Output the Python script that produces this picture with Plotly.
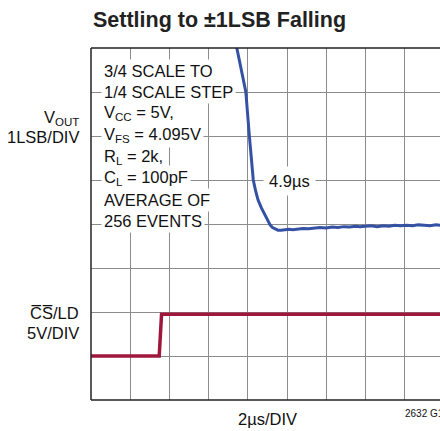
import plotly.graph_objects as go

# VOUT trace (x in divisions of 2us, y in divisions of 1LSB)
vout_x = [3.50, 3.62, 3.72, 3.84, 3.95, 4.04, 4.14, 4.20, 4.26, 4.35, 4.44, 4.51, 4.57, 4.63, 4.70, 4.77,
          4.85, 4.95, 5.05, 5.15, 5.28, 5.40, 5.55, 5.70, 5.84, 6.00, 6.15, 6.30, 6.45, 6.60, 6.75, 6.86,
          7.00, 7.15, 7.30, 7.45, 7.60, 7.75, 7.90, 8.05, 8.20, 8.35, 8.50, 8.65, 8.80, 8.92]
vout_y = [8.90, 8.45, 8.00, 7.50, 7.00, 6.00, 5.00, 4.75, 4.55, 4.36, 4.20, 4.07, 3.98, 3.92, 3.88, 3.86,
          3.86, 3.87, 3.88, 3.87, 3.89, 3.90, 3.89, 3.91, 3.92, 3.91, 3.93, 3.92, 3.94, 3.93, 3.95, 3.94,
          3.95, 3.96, 3.94, 3.96, 3.95, 3.97, 3.96, 3.97, 3.96, 3.98, 3.97, 3.96, 3.98, 3.97]

# CS/LD trace (y in divisions of 5V)
cs_x = [0.0, 1.74, 1.80, 8.92]
cs_y = [1.00, 1.00, 1.95, 1.95]

notes = ["3/4 SCALE TO", "1/4 SCALE STEP", "V<sub>CC</sub> = 5V,", "V<sub>FS</sub> = 4.095V",
         "R<sub>L</sub> = 2k,", "C<sub>L</sub> = 100pF", "AVERAGE OF", "256 EVENTS"]

FONT = "Liberation Sans, Arial, Helvetica, sans-serif"
BLUE = "#3551a4"
RED = "#a0173c"
FS = 16.5

fig = go.Figure()
fig.add_trace(go.Scatter(x=vout_x, y=vout_y, mode="lines", line=dict(color=BLUE, width=3), showlegend=False))
fig.add_trace(go.Scatter(x=cs_x, y=cs_y, mode="lines", line=dict(color=RED, width=3.5), showlegend=False))

W, H = 440, 431
L, T, B = 91, 48, 31
pw = W - L
ph = H - T - B
xmax = pw / 39.2

def px(xp):
    return (xp - L) / pw

def py(yp):
    return (H - B - yp) / ph

ann = []
ys = [70.5, 92, 113.5, 135, 156.5, 178, 199.5, 221]
for t, yy in zip(notes, ys):
    ann.append(dict(text=t, xref="paper", yref="paper", x=px(101), y=py(yy), xanchor="left", yanchor="middle",
                    showarrow=False, bgcolor="white", borderpad=2, font=dict(family=FONT, size=FS, color="#111")))
ann.append(dict(text="4.9µs", xref="paper", yref="paper", x=px(289), y=py(180.5), xanchor="center", yanchor="middle",
                showarrow=False, bgcolor="white", borderpad=5, font=dict(family=FONT, size=FS, color="#111")))
lab = [("V<sub>OUT</sub>", 118), ("1LSB/DIV", 137), ("C\u0305S\u0305/LD", 313), ("5V/DIV", 333)]
for t, yy in lab:
    ann.append(dict(text=t, xref="paper", yref="paper", x=px(81), y=py(yy), xanchor="right", yanchor="middle",
                    showarrow=False, font=dict(family=FONT, size=FS, color="#111")))
ann.append(dict(text="2µs/DIV", xref="paper", yref="paper", x=px(267), y=py(419), xanchor="center", yanchor="middle",
                showarrow=False, font=dict(family=FONT, size=FS, color="#111")))
ann.append(dict(text="2632 G14", xref="paper", yref="paper", x=px(403), y=py(413), xanchor="left", yanchor="middle",
                showarrow=False, font=dict(family=FONT, size=10, color="#111")))
ann.append(dict(text="<b>Settling to ±1LSB Falling</b>", xref="paper", yref="paper", x=px(91), y=py(20),
                xanchor="left", yanchor="middle", showarrow=False, font=dict(family=FONT, size=21.5, color="#222")))

shapes = [
    dict(type="line", xref="paper", yref="paper", x0=0, x1=0, y0=0, y1=1, line=dict(color="#222", width=1.5)),
    dict(type="line", xref="paper", yref="paper", x0=0, x1=1, y0=0, y1=0, line=dict(color="#222", width=1.5)),
    dict(type="line", xref="paper", yref="paper", x0=0, x1=1, y0=1, y1=1, line=dict(color="#222", width=1.5)),
]

fig.update_layout(
    width=W, height=H, margin=dict(l=L, r=0, t=T, b=B),
    plot_bgcolor="white", paper_bgcolor="white",
    xaxis=dict(range=[0, xmax], dtick=1, tick0=0, showgrid=True, gridcolor="#8c8c8c", gridwidth=1,
               showticklabels=False, zeroline=False, showline=False, ticks=""),
    yaxis=dict(range=[0, 8], dtick=1, tick0=0, showgrid=True, gridcolor="#8c8c8c", gridwidth=1,
               showticklabels=False, zeroline=False, showline=False, ticks=""),
    annotations=ann, shapes=shapes,
)
fig.write_html("out.html", config={"displayModeBar": False},
               post_script="document.body.style.margin='0';document.body.style.overflow='hidden';")
